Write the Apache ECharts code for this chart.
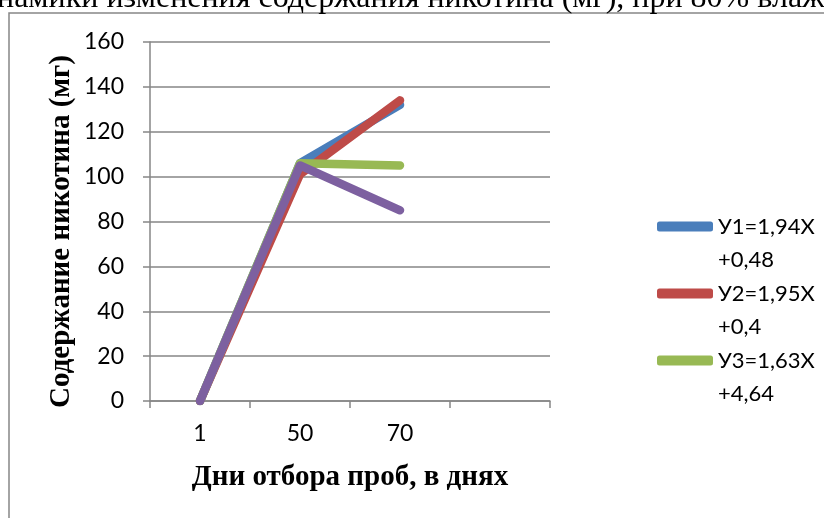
<!DOCTYPE html>
<html>
<head>
<meta charset="utf-8">
<script src="https://cdn.jsdelivr.net/npm/echarts@6/dist/echarts.min.js"></script>
<style>
html,body{margin:0;padding:0;background:#fff;}
#chart{width:824px;height:518px;}
</style>
</head>
<body>
<div id="chart"></div>
<script>
var categories = ['1', '50', '70', ''];
var seriesNames = ['У1=1,94Х\n+0,48', 'У2=1,95Х\n+0,4', 'У3=1,63Х\n+4,64', 'У4'];
var y1 = [0, 106, 132];
var y2 = [0, 101, 134];
var y3 = [0, 106, 105];
var y4 = [0, 105, 85];
var colors = ['#4A7EBB', '#BE4B48', '#98B954', '#7D60A0'];
var yTicks = {min: 0, max: 160, interval: 20};
var topText = 'намики изменения содержания никотина (мг), при 80% влаж';
var yTitle = 'Содержание никотина (мг)';
var xTitle = 'Дни отбора проб, в днях';

var chart = echarts.init(document.getElementById('chart'), null, {renderer: 'canvas'});
var allData = [y1, y2, y3, y4];
var series = allData.map(function (d, i) {
  return {
    name: seriesNames[i],
    type: 'line',
    data: d,
    symbol: 'none',
    silent: true,
    lineStyle: {width: 8.5, color: colors[i], cap: 'round', join: 'round'},
    itemStyle: {color: colors[i]}
  };
});

chart.setOption({
  animation: false,
  backgroundColor: '#fff',
  graphic: [
    {type: 'rect', shape: {x: 9, y: 13, width: 900, height: 600},
     style: {fill: null, stroke: '#868686', lineWidth: 1.5}, z: 0},
    {type: 'text', x: -3, y: 15,
     style: {text: topText, font: '32px "Liberation Serif"', fill: '#000', verticalAlign: 'bottom'}}
  ],
  grid: {left: 150, right: 274, top: 42, bottom: 117},
  legend: {
    data: seriesNames.slice(0, 3),
    orient: 'vertical',
    left: 657,
    top: 177,
    padding: 0,
    itemGap: -32,
    itemWidth: 56,
    itemHeight: 10,
    icon: 'roundRect',
    formatter: function (name) { return '\n' + name; },
    textStyle: {fontFamily: 'Lato', fontSize: 22, color: '#000', lineHeight: 33}
  },
  xAxis: {
    type: 'category',
    data: categories,
    boundaryGap: true,
    name: xTitle,
    nameLocation: 'middle',
    nameGap: 62,
    nameTextStyle: {fontFamily: 'Liberation Serif', fontWeight: 'bold', fontSize: 29, color: '#000'},
    axisLine: {lineStyle: {color: '#868686', width: 1.5}},
    axisTick: {show: true, length: 7, lineStyle: {color: '#868686', width: 1.5}},
    axisLabel: {fontFamily: 'Lato', fontSize: 23, color: '#000', margin: 21},
    splitLine: {show: false}
  },
  yAxis: {
    type: 'value',
    min: yTicks.min, max: yTicks.max, interval: yTicks.interval,
    name: yTitle,
    nameLocation: 'middle',
    nameGap: 74,
    nameRotate: 90,
    nameTextStyle: {fontFamily: 'Liberation Serif', fontWeight: 'bold', fontSize: 29, color: '#000', padding: [0, 20, 0, 0]},
    axisLine: {show: true, lineStyle: {color: '#868686', width: 1.5}},
    axisTick: {show: true, length: 7, lineStyle: {color: '#868686', width: 1.5}},
    axisLabel: {fontFamily: 'Lato', fontSize: 23, color: '#000', margin: 26},
    splitLine: {show: true, lineStyle: {color: '#868686', width: 1.5}}
  },
  series: series
});
</script>
</body>
</html>
